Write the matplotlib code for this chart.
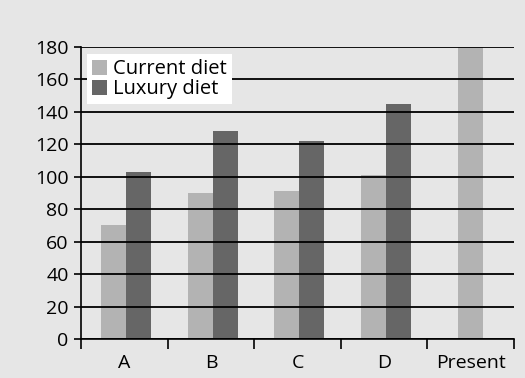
import matplotlib
matplotlib.use("Agg")
import matplotlib.pyplot as plt
import numpy as np

categories = ["A", "B", "C", "D", "Present"]
current_diet = [70, 90, 91, 101, 180]
luxury_diet = [103, 128, 122, 145, None]

BG = "#e6e6e6"
C_CUR = "#b3b3b3"
C_LUX = "#666666"

plt.rcParams["font.family"] = ["Open Sans", "DejaVu Sans"]

fig = plt.figure(figsize=(5.25, 3.78), dpi=100, facecolor=BG)
ax = fig.add_axes([0.1543, 0.1032, 0.979 - 0.1543, 0.8757 - 0.1032])
ax.set_facecolor(BG)

x = np.arange(len(categories))
w = 0.29
for i, (cur, lux) in enumerate(zip(current_diet, luxury_diet)):
    if lux is None:
        ax.bar(x[i], cur, w, color=C_CUR, zorder=1)
    else:
        ax.bar(x[i] - w / 2 + 0.02, cur, w, color=C_CUR, zorder=1,
               label="Current diet" if i == 0 else None)
        ax.bar(x[i] + w / 2 + 0.02, lux, w, color=C_LUX, zorder=1,
               label="Luxury diet" if i == 0 else None)

ax.set_xlim(-0.5, len(categories) - 0.5)
ax.set_ylim(0, 180)
ax.set_yticks(np.arange(0, 181, 20))
ax.tick_params(axis="y", labelsize=14, length=5, width=1.2, colors="black", pad=4)

# category labels centred, tick marks between categories
ax.set_xticks(x)
ax.set_xticklabels(categories, fontsize=14)
ax.tick_params(axis="x", which="major", length=0, pad=10.5)
ax.set_xticks(np.arange(-0.5, len(categories), 1), minor=True)
ax.tick_params(axis="x", which="minor", length=7, width=1.2, direction="out")

ax.set_axisbelow(False)
ax.yaxis.grid(True, color="black", linewidth=1.3)
ax.xaxis.grid(False)

for s in ["top", "right"]:
    ax.spines[s].set_visible(False)
for s in ["left", "bottom"]:
    ax.spines[s].set_linewidth(1.2)

leg = ax.legend(loc="upper left", bbox_to_anchor=(0.014, 0.975), borderaxespad=0,
                frameon=True, fancybox=False, facecolor="white", edgecolor="white",
                framealpha=1, fontsize=14.5, handlelength=0.75, handleheight=0.75,
                handletextpad=0.3, labelspacing=0.0, borderpad=0.25)
leg.get_frame().set_linewidth(0)
leg.set_zorder(5)

fig.savefig("out.png", dpi=100, facecolor=BG)
